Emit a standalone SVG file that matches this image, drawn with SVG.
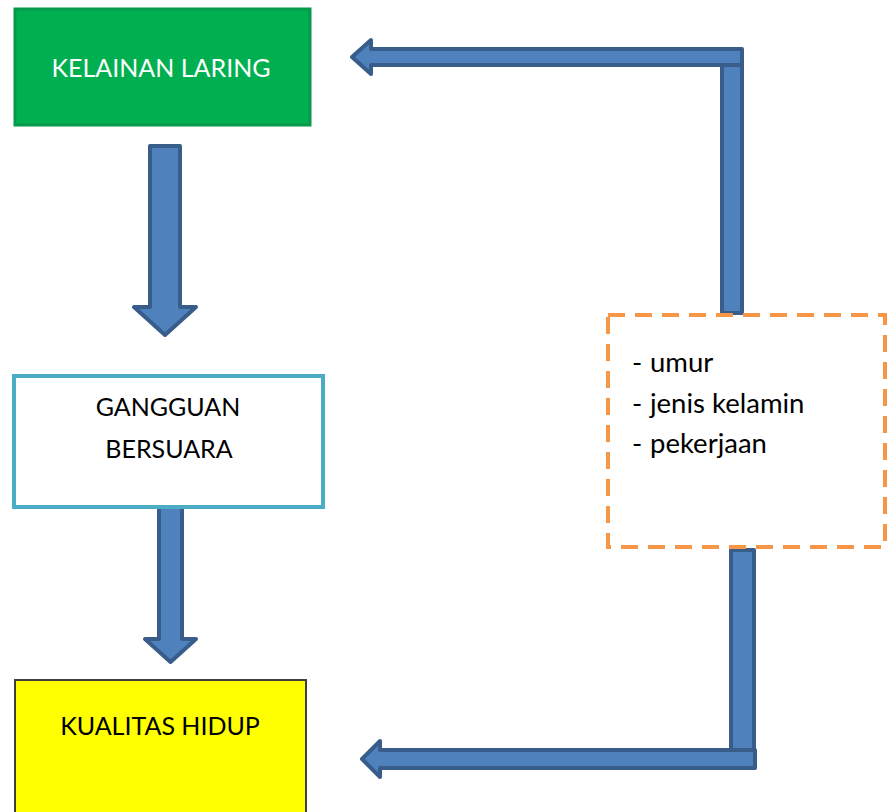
<svg xmlns="http://www.w3.org/2000/svg" width="891" height="812" viewBox="0 0 891 812">
<style>
text{font-family:"Lato","Liberation Sans",sans-serif;font-size:25px;}
.list{font-size:27.5px;}
.arrow{fill:#4f81bd;stroke:#385d8a;stroke-width:4;stroke-linejoin:round;}
.c{text-anchor:middle;}
</style>
<rect width="891" height="812" fill="#ffffff"/>
<g id="connectors">
  <path class="arrow" d="M150,146 H180 V307 H196 L165,335 L134,307 H150 Z"/>
  <path class="arrow" d="M159,506 H182 V639 H196 L170.5,662 L145,639 H159 Z"/>
  <rect class="arrow" x="722" y="62" width="20" height="251"/>
  <path class="arrow" d="M352,57 L371,40 V49 H742 V65 H371 V74 Z"/>
  <rect class="arrow" x="731" y="550" width="23" height="202"/>
  <path class="arrow" d="M362,759 L380,741 V750 H755 V768 H380 V777 Z"/>
</g>
<g id="kelainan-laring">
  <rect x="15" y="9" width="295" height="116" fill="#00b050" stroke="#07994a" stroke-width="3"/>
  <text x="161" y="77" class="c" fill="#ffffff">KELAINAN LARING</text>
</g>
<g id="gangguan-bersuara">
  <rect x="14" y="376" width="309" height="131" fill="#ffffff" stroke="#4bacc6" stroke-width="4"/>
  <text x="168" y="416" class="c" fill="#000000">GANGGUAN</text>
  <text x="169" y="458" class="c" fill="#000000">BERSUARA</text>
</g>
<g id="faktor">
  <rect x="608" y="315" width="277" height="232" fill="#ffffff" stroke="#f79646" stroke-width="4" stroke-dasharray="17 10"/>
  <text x="632" y="372" class="list" fill="#000000">-<tspan x="650">umur</tspan></text>
  <text x="632" y="413" class="list" fill="#000000">-<tspan x="650">jenis kelamin</tspan></text>
  <text x="632" y="453" class="list" fill="#000000">-<tspan x="650">pekerjaan</tspan></text>
</g>
<g id="kualitas-hidup">
  <rect x="15" y="680" width="291" height="140" fill="#ffff00" stroke="#3f3f3f" stroke-width="2"/>
  <text x="160" y="735" class="c" fill="#000000">KUALITAS HIDUP</text>
</g>
</svg>
